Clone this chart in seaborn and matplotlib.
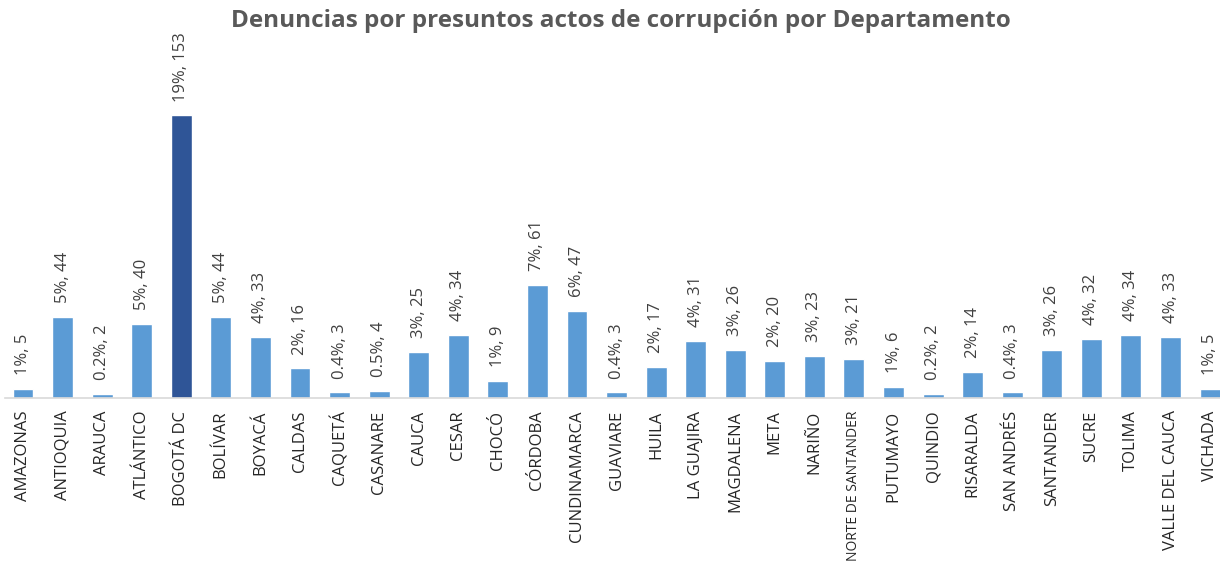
import matplotlib
matplotlib.use("Agg")
import matplotlib.pyplot as plt
import seaborn as sns

# ── Data ──────────────────────────────────────────────────────────────────
departamentos = [
    "AMAZONAS", "ANTIOQUIA", "ARAUCA", "ATLÁNTICO", "BOGOTÁ DC", "BOLÍVAR",
    "BOYACÁ", "CALDAS", "CAQUETÁ", "CASANARE", "CAUCA", "CESAR", "CHOCÓ",
    "CÓRDOBA", "CUNDINAMARCA", "GUAVIARE", "HUILA", "LA GUAJIRA", "MAGDALENA",
    "META", "NARIÑO", "NORTE DE SANTANDER", "PUTUMAYO", "QUINDIO", "RISARALDA",
    "SAN ANDRÉS", "SANTANDER", "SUCRE", "TOLIMA", "VALLE DEL CAUCA", "VICHADA",
]
denuncias = [5, 44, 2, 40, 153, 44, 33, 16, 3, 4, 25, 34, 9, 61, 47, 3, 17,
             31, 26, 20, 23, 21, 6, 2, 14, 3, 26, 32, 34, 33, 5]
porcentajes = ["1%", "5%", "0.2%", "5%", "19%", "5%", "4%", "2%", "0.4%",
               "0.5%", "3%", "4%", "1%", "7%", "6%", "0.4%", "2%", "4%", "3%",
               "2%", "3%", "3%", "1%", "0.2%", "2%", "0.4%", "3%", "4%", "4%",
               "4%", "1%"]

BAR_COLOR = "#5B9BD5"
HIGHLIGHT = "#2F5597"
colors = [HIGHLIGHT if d == "BOGOTÁ DC" else BAR_COLOR for d in departamentos]

# ── Plot ──────────────────────────────────────────────────────────────────
sns.set_style("white")
plt.rcParams["font.family"] = ["Open Sans", "DejaVu Sans"]

fig = plt.figure(figsize=(12.2, 5.7), dpi=100)
ax = fig.add_axes([5.2 / 1220, 172 / 570, 1214.8 / 1220, 314 / 570])

sns.barplot(x=departamentos, y=denuncias, hue=departamentos, palette=colors,
            legend=False, width=0.53, saturation=1, ax=ax)

for i, (v, p) in enumerate(zip(denuncias, porcentajes)):
    ax.annotate(f"{p}, {v}", (i, v), xytext=(0, 10), textcoords="offset points",
                rotation=90, ha="center", va="bottom", fontsize=12,
                color="#404040")

ax.set_xlim(-0.45, 30.25)
ax.set_ylim(0, 170)
ax.set_yticks([])
ax.set_xlabel("")
ax.set_ylabel("")
for s in ["top", "right", "left"]:
    ax.spines[s].set_visible(False)
ax.spines["bottom"].set_color("#D9D9D9")
ax.spines["bottom"].set_linewidth(1.2)
ax.tick_params(axis="x", length=0, pad=9, labelsize=12, labelcolor="#262626")
plt.setp(ax.get_xticklabels(), rotation=90, va="top", ha="center")
# longest label: shrink so it stays inside the figure
for lbl in ax.get_xticklabels():
    if lbl.get_text() == "NORTE DE SANTANDER":
        lbl.set_fontsize(10)

fig.text(0.5086, 0.963, "Denuncias por presuntos actos de corrupción por Departamento",
         ha="center", va="center", fontsize=17.5, fontweight="bold",
         color="#595959")

fig.savefig("out.png", dpi=100)
